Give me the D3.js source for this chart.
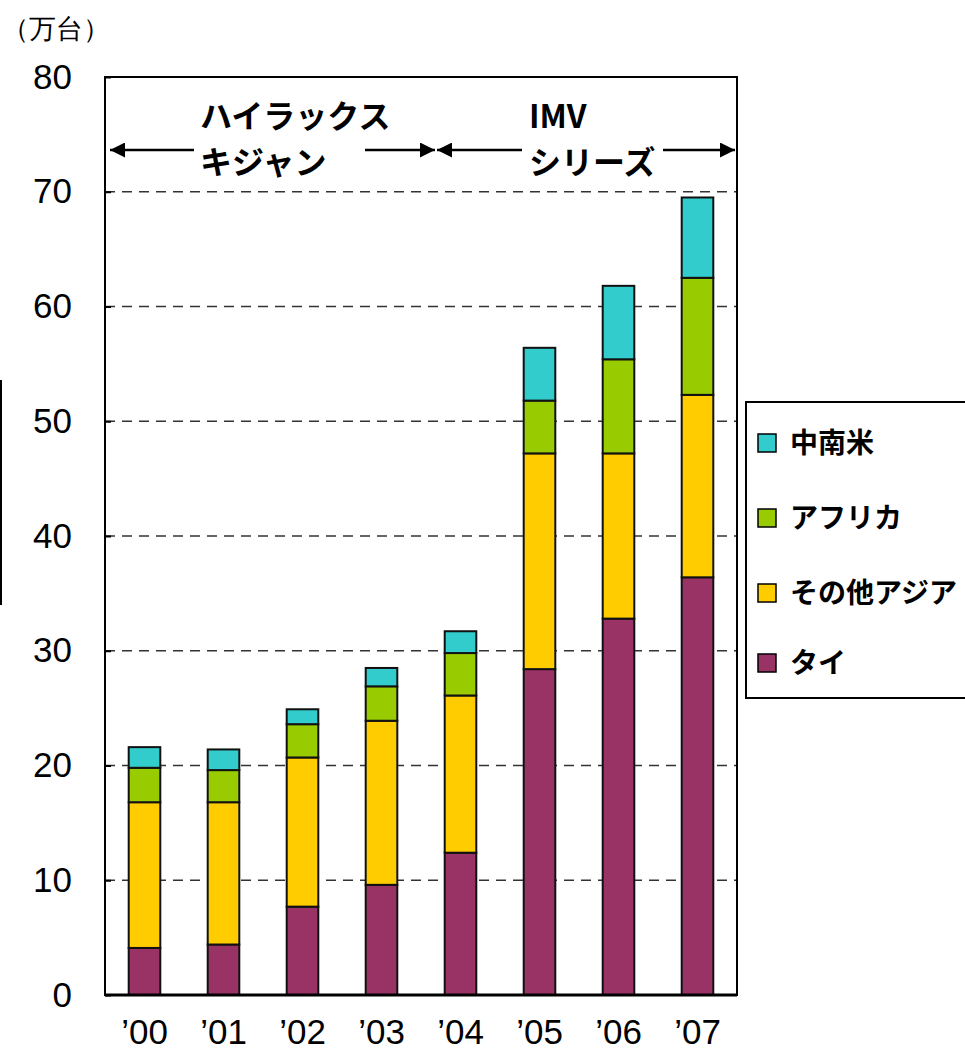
<!DOCTYPE html>
<html>
<head>
<meta charset="utf-8">
<title>IMV</title>
<script src="https://cdn.jsdelivr.net/npm/d3@7"></script>
<style>
	body { margin: 0; background: #fff; }
	text { font-family: "Liberation Sans", Arial, sans-serif; }
	.jp { font-family: "Noto Sans CJK JP", sans-serif; font-weight: bold; }
</style>
</head>
<body>
<div id="chart"></div>
<script>
// data (万台)
var years = ["\u201900", "\u201901", "\u201902", "\u201903", "\u201904", "\u201905", "\u201906", "\u201907"];
var thai = [4.1, 4.4, 7.7, 9.6, 12.4, 28.4, 32.8, 36.4];
var otherAsia = [12.7, 12.4, 13.0, 14.3, 13.7, 18.8, 14.4, 15.9];
var africa = [3.0, 2.8, 2.9, 3.0, 3.7, 4.6, 8.2, 10.2];
var latinAmerica = [1.8, 1.8, 1.3, 1.6, 1.9, 4.6, 6.4, 7.0];
var seriesNames = ["タイ", "その他アジア", "アフリカ", "中南米"];
var seriesKeys = ["thai", "otherAsia", "africa", "latin"];
var colors = ["#993366", "#ffcc00", "#99cc00", "#33cccc"];
var yTicks = [0, 10, 20, 30, 40, 50, 60, 70, 80];

var width = 965, height = 1054;
var plotLeft = 105, plotRight = 737, plotTop = 77, plotBottom = 995;

var svg = d3.select("#chart").append("svg")
	.attr("width", width).attr("height", height);

var rows = years.map(function(y, i){
	return {year: y, thai: thai[i], otherAsia: otherAsia[i], africa: africa[i], latin: latinAmerica[i]};
});

var x = d3.scaleBand().domain(years).range([plotLeft, plotRight]).paddingInner(0.6).paddingOuter(0.3);
var y = d3.scaleLinear().domain([0, 80]).range([plotBottom, plotTop]);

// gridlines
svg.append("g").selectAll("line")
	.data(yTicks.filter(function(d){ return d > 0 && d < 80; }))
	.enter().append("line")
	.attr("x1", plotLeft).attr("x2", plotRight)
	.attr("y1", function(d){ return y(d); }).attr("y2", function(d){ return y(d); })
	.attr("stroke", "#333").attr("stroke-width", 1.5)
	.attr("stroke-dasharray", "10,7");

// stacked bars
var stack = d3.stack().keys(seriesKeys)(rows);
svg.append("g").selectAll("g")
	.data(stack).enter().append("g")
	.attr("fill", function(d, i){ return colors[i]; })
	.selectAll("rect")
	.data(function(d){ return d; })
	.enter().append("rect")
	.attr("x", function(d){ return x(d.data.year); })
	.attr("width", x.bandwidth())
	.attr("y", function(d){ return y(d[1]); })
	.attr("height", function(d){ return y(d[0]) - y(d[1]); })
	.attr("stroke", "#111").attr("stroke-width", 2);

// frame
svg.append("rect")
	.attr("x", plotLeft).attr("y", plotTop)
	.attr("width", plotRight - plotLeft).attr("height", plotBottom - plotTop)
	.attr("fill", "none").attr("stroke", "#000").attr("stroke-width", 2);
svg.append("line")
	.attr("x1", plotLeft).attr("x2", plotRight).attr("y1", plotBottom).attr("y2", plotBottom)
	.attr("stroke", "#000").attr("stroke-width", 3);

// y axis
var yAxis = d3.axisLeft(y).tickValues(yTicks).tickSize(-6).tickPadding(33);
var ga = svg.append("g").attr("transform", "translate(" + plotLeft + ",0)").call(yAxis);
ga.select(".domain").remove();
ga.selectAll(".tick line").attr("stroke", "#000").attr("stroke-width", 2);
ga.selectAll("text").attr("font-size", 35).attr("fill", "#000")
	.attr("font-family", "Liberation Sans, Arial, sans-serif");

// x axis
var xAxis = d3.axisBottom(x).tickSize(0).tickPadding(24);
var gx = svg.append("g").attr("transform", "translate(0," + plotBottom + ")").call(xAxis);
gx.select(".domain").remove();
gx.selectAll("text").attr("font-size", 35).attr("fill", "#000")
	.attr("font-family", "Liberation Sans, Arial, sans-serif");

// unit label
svg.append("text")
	.attr("x", 2).attr("y", 38)
	.attr("font-size", 27)
	.attr("font-weight", 500)
	.attr("font-family", "Noto Sans CJK JP, sans-serif")
	.text("（万台）");

// stray line at left edge
svg.append("line").attr("x1", 1).attr("x2", 1).attr("y1", 380).attr("y2", 605)
	.attr("stroke", "#000").attr("stroke-width", 2);

// model period annotations
var defs = svg.append("defs");
defs.append("marker").attr("id", "ah")
	.attr("viewBox", "0 0 10 10").attr("refX", 10).attr("refY", 5)
	.attr("markerWidth", 6).attr("markerHeight", 6)
	.attr("markerUnits", "strokeWidth").attr("orient", "auto-start-reverse")
	.append("path").attr("d", "M0,0L10,5L0,10Z").attr("fill", "#000");

var arrowY = 150;
var arrows = [[194, 110], [365, 435], [522, 437], [663, 735]];
svg.append("g").selectAll("line").data(arrows).enter().append("line")
	.attr("x1", function(d){ return d[0]; }).attr("x2", function(d){ return d[1]; })
	.attr("y1", arrowY).attr("y2", arrowY)
	.attr("stroke", "#000").attr("stroke-width", 2.5)
	.attr("marker-end", "url(#ah)");

var notes = [
	{t: "ハイラックス", x: 200, y: 128},
	{t: "キジャン", x: 200, y: 174},
	{t: "IMV", x: 529, y: 128},
	{t: "シリーズ", x: 529, y: 174}
];
svg.append("g").selectAll("text").data(notes).enter().append("text")
	.attr("class", "jp")
	.attr("x", function(d){ return d.x; }).attr("y", function(d){ return d.y; })
	.attr("font-size", 32)
	.text(function(d){ return d.t; });

// legend
var lg = svg.append("g");
lg.append("rect").attr("x", 746).attr("y", 402).attr("width", 240).attr("height", 296)
	.attr("fill", "#fff").attr("stroke", "#000").attr("stroke-width", 2);
var legendOrder = [3, 2, 1, 0];
var legendY = [443, 518, 593, 663];
var items = lg.selectAll("g.item").data(legendOrder).enter().append("g")
	.attr("transform", function(d, i){ return "translate(758," + legendY[i] + ")"; });
items.append("rect").attr("x", 0).attr("y", -9).attr("width", 18).attr("height", 18)
	.attr("fill", function(d){ return colors[d]; })
	.attr("stroke", "#000").attr("stroke-width", 1.5);
items.append("text").attr("class", "jp")
	.attr("x", 32).attr("y", 10).attr("font-size", 28)
	.text(function(d){ return seriesNames[d]; });
</script>
</body>
</html>
